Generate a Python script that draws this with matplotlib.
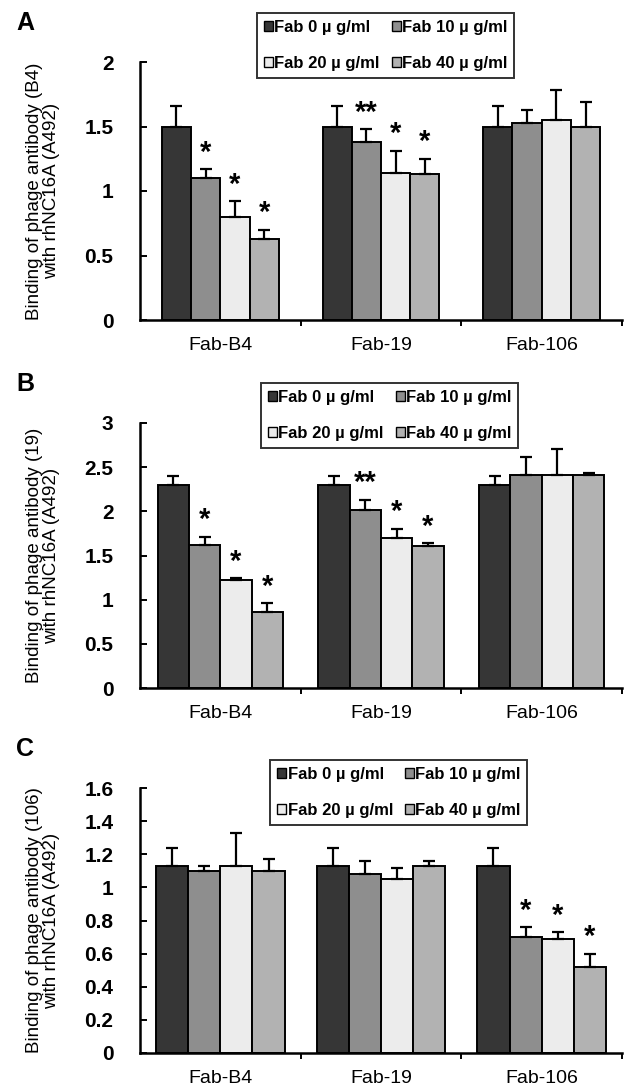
import matplotlib
import matplotlib.pyplot as plt
from matplotlib import font_manager
import numpy as np

matplotlib.use('Agg')
plt.rcParams['font.family'] = ['Liberation Sans', 'DejaVu Sans']

try:
    font_manager.findfont('Liberation Sans Narrow', fallback_to_default=False)
    LEG_FONT = ['Liberation Sans Narrow', 'DejaVu Sans']
except ValueError:
    LEG_FONT = ['Liberation Sans', 'DejaVu Sans']

groups = ['Fab-B4', 'Fab-19', 'Fab-106']
doses = ['Fab 0 µ g/ml', 'Fab 10 µ g/ml', 'Fab 20 µ g/ml', 'Fab 40 µ g/ml']
colors = ['#363636', '#8e8e8e', '#ececec', '#b2b2b2']

# panel A: phage antibody B4 (rows = dose, cols = group)
a_mean = [[1.50, 1.50, 1.50],
          [1.10, 1.38, 1.53],
          [0.80, 1.14, 1.55],
          [0.63, 1.13, 1.50]]
a_err = [[0.16, 0.16, 0.16],
         [0.07, 0.10, 0.10],
         [0.12, 0.17, 0.23],
         [0.07, 0.12, 0.19]]
a_stars = [['', '', ''], ['*', '**', ''], ['*', '*', ''], ['*', '*', '']]

# panel B: phage antibody 19
b_mean = [[2.30, 2.30, 2.30],
          [1.62, 2.01, 2.41],
          [1.22, 1.70, 2.41],
          [0.86, 1.61, 2.41]]
b_err = [[0.10, 0.10, 0.10],
         [0.09, 0.12, 0.20],
         [0.02, 0.10, 0.30],
         [0.10, 0.03, 0.02]]
b_stars = [['', '', ''], ['*', '**', ''], ['*', '*', ''], ['*', '*', '']]

# panel C: phage antibody 106
c_mean = [[1.13, 1.13, 1.13],
          [1.10, 1.08, 0.70],
          [1.13, 1.05, 0.69],
          [1.10, 1.13, 0.52]]
c_err = [[0.11, 0.11, 0.11],
         [0.03, 0.08, 0.06],
         [0.20, 0.07, 0.04],
         [0.07, 0.03, 0.08]]
c_stars = [['', '', ''], ['', '', '*'], ['', '', '*'], ['', '', '*']]

W, H = 627, 1087
# letter, antibody, data, ymax, ystep, bar width, axes px (top, zero), legend px (x, y)
panels = [
    ('A', '(B4)', a_mean, a_err, a_stars, 2.0, 0.5, 0.182, (62, 320), (257, 13)),
    ('B', '(19)', b_mean, b_err, b_stars, 3.0, 0.5, 0.195, (423, 688), (261, 383)),
    ('C', '(106)', c_mean, c_err, c_stars, 1.6, 0.2, 0.200, (788, 1053), (270, 760)),
]

fig = plt.figure(figsize=(W / 100, H / 100), dpi=100)
x0, x1 = 140, 622

for letter, ab, mean, err, stars, ymax, ystep, w, (ytop, yzero), (lx, ly) in panels:
    ax = fig.add_axes([x0 / W, 1 - yzero / H, (x1 - x0) / W, (yzero - ytop) / H])
    x = np.arange(len(groups))
    mean = np.array(mean)
    err = np.array(err)
    bars = []
    for i in range(len(doses)):
        xs = x + (i - 1.5) * w
        b = ax.bar(xs, mean[i], w, color=colors[i], edgecolor='black',
                   linewidth=1.4, label=doses[i], zorder=2)
        bars.append(b)
        ax.errorbar(xs, mean[i], yerr=[np.zeros(3), err[i]], fmt='none',
                    ecolor='black', elinewidth=1.6, capsize=4, capthick=1.6,
                    zorder=3)
        for j in range(len(groups)):
            if stars[i][j]:
                ax.text(xs[j], mean[i][j] + err[i][j] + ymax * 0.01,
                        stars[i][j], ha='center', va='bottom',
                        fontsize=21, fontweight='bold')

    ticks = np.arange(0, ymax + ystep / 2, ystep)
    ax.set_xlim(-0.5, 2.5)
    ax.set_ylim(0, ymax)
    ax.set_yticks(ticks)
    ax.set_yticklabels(['%g' % v for v in ticks], fontsize=15, fontweight='bold')
    ax.tick_params(axis='y', direction='in', length=5, width=1.4, pad=19)
    ax.set_xticks(x)
    ax.set_xticklabels(groups, fontsize=14)
    ax.tick_params(axis='x', length=0, pad=12)
    ax.set_xticks([0.5, 1.5, 2.5], minor=True)
    ax.tick_params(axis='x', which='minor', direction='out', length=4,
                   width=1.4)
    for s in ['top', 'right']:
        ax.spines[s].set_visible(False)
    for s in ['left', 'bottom']:
        ax.spines[s].set_linewidth(1.8)

    yc = 1 - (ytop + yzero) / 2 / H
    fig.text(43 / W, yc, 'Binding of phage antibody %s\nwith rhNC16A (A492)' % ab,
             rotation=90, ha='center', va='center', fontsize=13.5,
             linespacing=1.0, multialignment='center')
    fig.text(16 / W, 1 - (ytop - 39) / H, letter, fontsize=18,
             fontweight='bold', ha='left', va='center')

    order = [0, 2, 1, 3]
    leg = ax.legend([bars[k] for k in order], [doses[k] for k in order],
                    loc='upper left', bbox_to_anchor=(lx / W, 1 - ly / H),
                    bbox_transform=fig.transFigure, ncol=2,
                    frameon=True, fancybox=False, edgecolor='black',
                    handlelength=0.55, handleheight=0.55, handletextpad=0.1,
                    columnspacing=0.7, borderpad=0.4, labelspacing=1.3,
                    borderaxespad=0,
                    prop={'weight': 'bold', 'size': 12, 'family': LEG_FONT})
    leg.get_frame().set_linewidth(1.4)
    for h in leg.legend_handles:
        h.set_linewidth(1.0)

fig.savefig('out.png', dpi=100)
